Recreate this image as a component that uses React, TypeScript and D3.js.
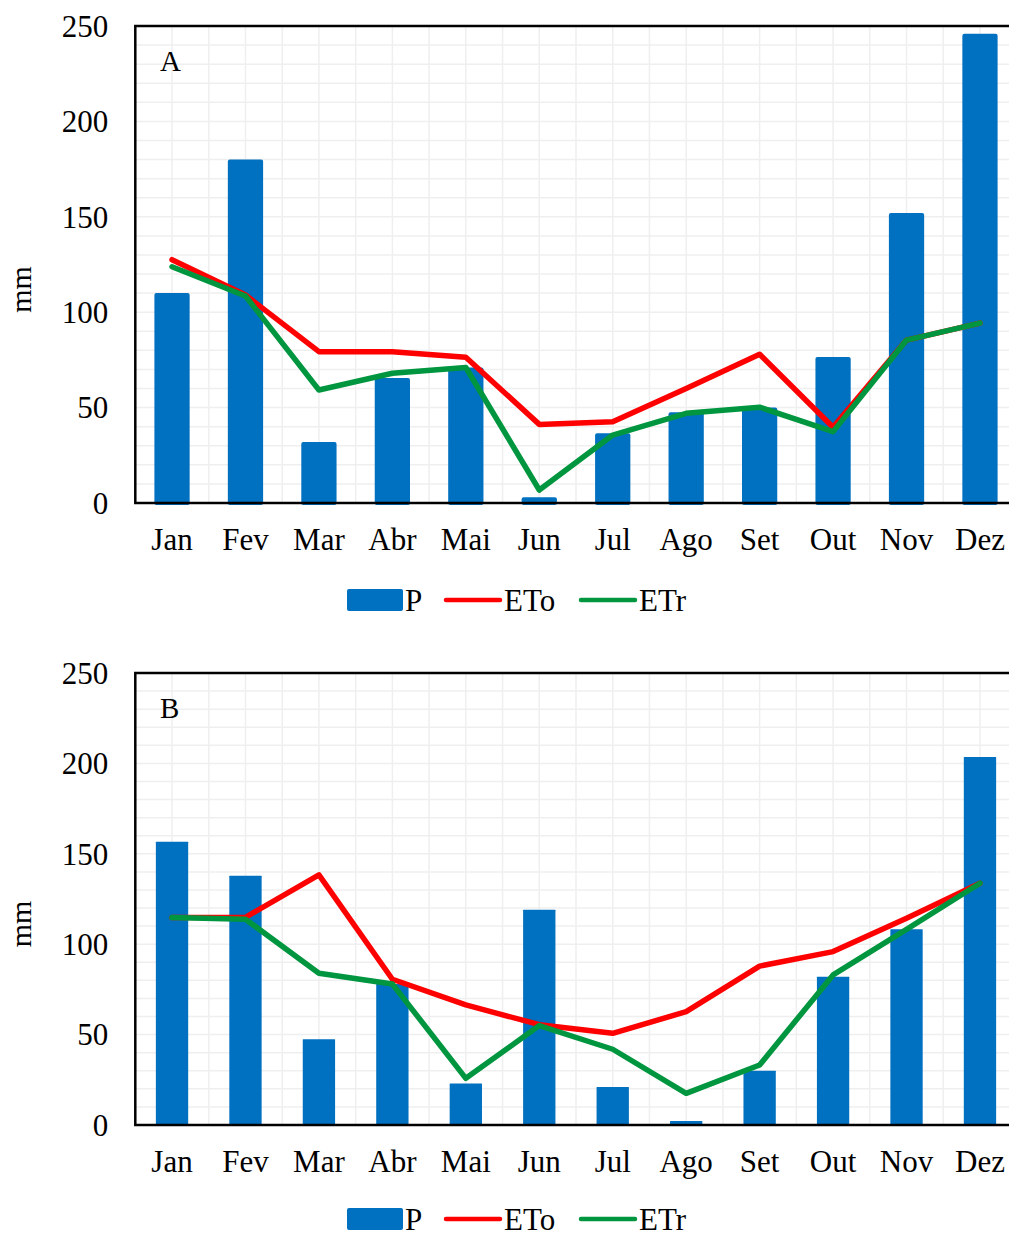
import React, { useRef, useEffect } from "react";
import * as d3 from "d3";

// dados (mm)
const months = ["Jan", "Fev", "Mar", "Abr", "Mai", "Jun", "Jul", "Ago", "Set", "Out", "Nov", "Dez"];
const yTicks = [0, 50, 100, 150, 200, 250];

const pA = [110, 180, 32, 65.5, 71, 3, 36.5, 47.5, 50, 76.5, 152, 246];
const etoA = [127.5, 109, 79.3, 79.3, 76.4, 41.2, 42.6, 60, 78, 39.7, 85.4, 94.3];
const etrA = [123.8, 108.5, 59.2, 68, 71, 6.8, 35.6, 47, 50.2, 37.4, 85.4, 94.3];

const pB = [156.7, 137.9, 47.4, 78, 23, 119, 21, 2.2, 30, 82, 108.2, 203.5];
const etoB = [114.7, 114.9, 138.3, 80.6, 66.4, 55.5, 50.7, 62.7, 87.9, 95.9, 114.3, 133.7];
const etrB = [114.7, 113.8, 83.9, 78, 25.8, 55, 41.9, 17.5, 33.2, 83, 108.2, 133.7];

const legendItems = ["P", "ETo", "ETr"];

const FONT = "'Liberation Serif', 'Times New Roman', serif";
const BLUE = "#0070c0";
const RED = "#ff0000";
const GREEN = "#00963f";

const WIDTH = 1009;
const HEIGHT = 1235;
const LEFT = 135.3;
const RIGHT = 1016.7;

function drawPanel(
  svg: d3.Selection<SVGSVGElement, unknown, null, undefined>,
  opts: {
    label: string;
    p: number[];
    eto: number[];
    etr: number[];
    top: number;
    bottom: number;
    barFrac: number;
    barRx: number;
    legendY: number;
  }
) {
  const { label, p, eto, etr, top, bottom, barFrac, barRx, legendY } = opts;
  const g = svg.append("g");

  const x = d3.scaleBand<string>().domain(months).range([LEFT, RIGHT]).padding(0);
  const y = d3.scaleLinear().domain([0, 250]).range([bottom, top]);
  const bw = x.bandwidth();

  // grade
  const halfSteps = d3.range(0, months.length * 2 + 1).map((i) => LEFT + (i * bw) / 2);
  g.selectAll(".vgrid")
    .data(halfSteps)
    .enter()
    .append("line")
    .attr("x1", (d) => d)
    .attr("x2", (d) => d)
    .attr("y1", top)
    .attr("y2", bottom)
    .attr("stroke", "#efefef")
    .attr("stroke-width", 1.5);

  g.selectAll(".hgrid")
    .data(d3.range(10, 250, 10))
    .enter()
    .append("line")
    .attr("x1", LEFT)
    .attr("x2", RIGHT)
    .attr("y1", (d) => y(d))
    .attr("y2", (d) => y(d))
    .attr("stroke", "#efefef")
    .attr("stroke-width", 1.5);

  // barras P
  const barW = bw * barFrac;
  g.selectAll(".bar")
    .data(p)
    .enter()
    .append("rect")
    .attr("x", (_, i) => (x(months[i]) as number) + (bw - barW) / 2)
    .attr("y", (d) => y(d))
    .attr("width", barW)
    .attr("height", (d) => bottom - y(d) + barRx)
    .attr("rx", barRx)
    .attr("fill", BLUE);

  // linhas
  const line = d3
    .line<number>()
    .x((_, i) => (x(months[i]) as number) + bw / 2)
    .y((d) => y(d));

  [
    { data: eto, color: RED },
    { data: etr, color: GREEN },
  ].forEach((s) => {
    g.append("path")
      .attr("d", line(s.data))
      .attr("fill", "none")
      .attr("stroke", s.color)
      .attr("stroke-width", 5.5)
      .attr("stroke-linejoin", "round")
      .attr("stroke-linecap", "round");
  });

  // moldura
  g.append("rect")
    .attr("x", LEFT)
    .attr("y", top)
    .attr("width", RIGHT - LEFT)
    .attr("height", bottom - top)
    .attr("fill", "none")
    .attr("stroke", "#000")
    .attr("stroke-width", 2.5);

  // eixo y
  const yAxis = g
    .append("g")
    .attr("transform", `translate(${LEFT - 27},0)`)
    .call(d3.axisLeft(y).tickValues(yTicks).tickSize(0).tickPadding(0).tickFormat(d3.format("d")));
  yAxis.select(".domain").remove();
  yAxis
    .selectAll("text")
    .attr("dy", "0.33em")
    .style("font-family", FONT)
    .style("font-size", "31px")
    .style("fill", "#000");

  // eixo x
  g.selectAll(".mlabel")
    .data(months)
    .enter()
    .append("text")
    .attr("x", (d) => (x(d) as number) + bw / 2)
    .attr("y", bottom + 47)
    .attr("text-anchor", "middle")
    .style("font-family", FONT)
    .style("font-size", "31px")
    .text((d) => d);

  // título do eixo
  g.append("text")
    .attr("transform", `translate(31,${(top + bottom) / 2 + 25}) rotate(-90)`)
    .attr("text-anchor", "middle")
    .style("font-family", FONT)
    .style("font-size", "30px")
    .text("mm");

  // rótulo do painel
  g.append("text")
    .attr("x", 160)
    .attr("y", top + 45)
    .style("font-family", FONT)
    .style("font-size", "29px")
    .text(label);

  // legenda
  const ly = legendY;
  const leg = g.append("g");
  leg
    .append("rect")
    .attr("x", 347)
    .attr("y", ly - 11)
    .attr("width", 56)
    .attr("height", 22)
    .attr("rx", 2)
    .attr("fill", BLUE);
  leg
    .append("line")
    .attr("x1", 446)
    .attr("x2", 500)
    .attr("y1", ly)
    .attr("y2", ly)
    .attr("stroke", RED)
    .attr("stroke-width", 4.5)
    .attr("stroke-linecap", "round");
  leg
    .append("line")
    .attr("x1", 581)
    .attr("x2", 635)
    .attr("y1", ly)
    .attr("y2", ly)
    .attr("stroke", GREEN)
    .attr("stroke-width", 4.5)
    .attr("stroke-linecap", "round");
  const textX = [405, 504, 639];
  legendItems.forEach((t, i) => {
    leg
      .append("text")
      .attr("x", textX[i])
      .attr("y", ly + 10.5)
      .style("font-family", FONT)
      .style("font-size", "31px")
      .text(t);
  });
}

export default function App() {
  const svgRef = useRef<SVGSVGElement>(null);

  useEffect(() => {
    if (!svgRef.current) return;
    const svg = d3.select(svgRef.current);
    svg.selectAll("*").remove();

    svg.append("rect").attr("width", WIDTH).attr("height", HEIGHT).attr("fill", "#fff");

    drawPanel(svg, {
      label: "A", p: pA, eto: etoA, etr: etrA,
      top: 26, bottom: 503, barFrac: 0.48, barRx: 2, legendY: 600,
    });
    drawPanel(svg, {
      label: "B", p: pB, eto: etoB, etr: etrB,
      top: 673, bottom: 1125, barFrac: 0.44, barRx: 0.5, legendY: 1219,
    });
  }, []);

  return (
    <svg
      ref={svgRef}
      width={WIDTH}
      height={HEIGHT}
      viewBox={`0 0 ${WIDTH} ${HEIGHT}`}
      style={{ position: "absolute", left: 0, top: 0, display: "block" }}
    />
  );
}
